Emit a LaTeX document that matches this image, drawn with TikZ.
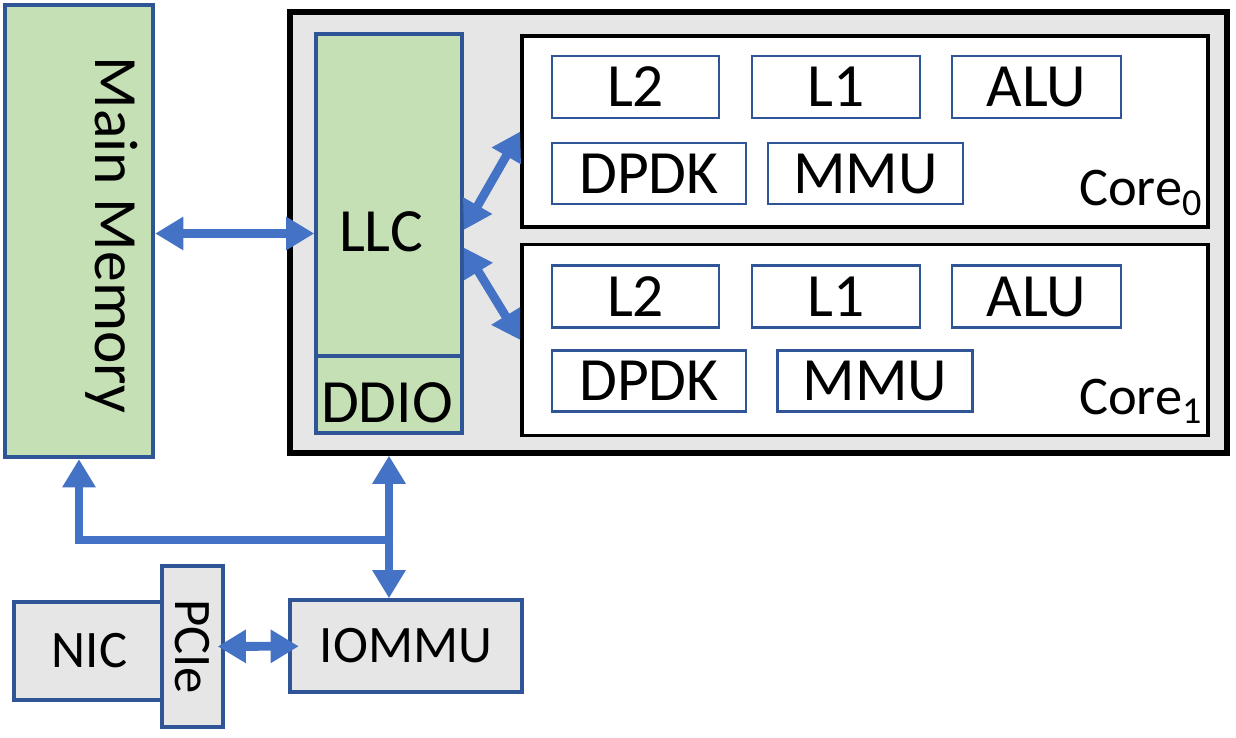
\documentclass[tikz,border=0pt]{standalone}
\usepackage{fontspec}
\setmainfont{Carlito}
\usetikzlibrary{arrows.meta}

\definecolor{memgreen}{HTML}{C5E0B4}
\definecolor{boxblue}{HTML}{2F5597}
\definecolor{arrowblue}{HTML}{4472C4}
\definecolor{cpugray}{HTML}{E7E6E6}

\tikzset{
	sz/.style 2 args={minimum width=#1*0.02cm, minimum height=#2*0.02cm, inner sep=0pt},
	membox/.style={draw=boxblue, line width=2.5pt, fill=memgreen},
	cpubox/.style={draw=black, line width=3pt, fill=cpugray},
	corebox/.style={draw=black, line width=2pt, fill=white},
	unit/.style={draw=boxblue, line width=1.2pt, fill=white},
	iobox/.style={draw=boxblue, line width=2pt, fill=cpugray, font=\fontsize{30}{36}\selectfont},
	link/.style={draw=arrowblue, line width=5pt}
}

\begin{document}
\begin{tikzpicture}[x=0.02cm,y=-0.02cm,
			font=\fontsize{35}{42}\selectfont,
			>={Triangle[width=18pt,length=16pt]}]
			\useasboundingbox (0,0) rectangle (1236,737);
			\node[membox, sz={148}{452}] (mem) at (79,231) {};
			\node[rotate=-90] (memtext) at (112,235) {Main Memory};
			\node[cpubox, sz={937}{441}] (cpu) at (758.5,232.5) {};
			\node[membox, line width=2pt, sz={146}{399}] (llc) at (389,233.5) {};
			\draw[boxblue, line width=2pt] (llc.west |- 0,356) -- (llc.east |- 0,356);
			\node (llctext) at (381,232) {LLC};
			\node (ddio) at (387,403) {DDIO};
			\foreach \i/\cy/\ra/\rb/\mx in {0/131.5/87/173.5/865.5, 1/340/296.5/381/875} {
				\node[corebox, sz={686}{191}] (core\i) at (865,\cy) {};
				\node[unit, sz={167}{62}] (ltwo\i) at (635.5,\ra) {L2};
				\node[unit, sz={168}{62}] (lone\i) at (836,\ra) {L1};
				\node[unit, sz={169}{62}] (alu\i) at (1036.5,\ra) {ALU};
				\node[unit, sz={194}{61}] (dpdk\i) at (649,\rb) {DPDK};
				\node[unit, sz={195}{61}] (mmu\i) at (\mx,\rb) {MMU};
				\node[anchor=south east, inner sep=4pt, yshift=0.12cm, font=\fontsize{31}{37}\selectfont] (corelbl\i) at (core\i.south east) {Core\textsubscript{\i}};
			}
			\node[iobox, sz={151}{98}] (nic) at (89.5,651) {NIC};
			\node[iobox, rotate=-90, sz={161}{61}] (pcie) at (192.5,646.5) {PCIe};
			\node[iobox, sz={232}{92}] (iommu) at (406,646) {IOMMU};
			\coordinate (bus) at (llc.south |- 0,540);
			\draw[link, <->] (mem.east |- llc) -- (llc.west);
			\draw[link, <->] ([yshift=2pt]llc.east) -- (core0.west);
			\draw[link, <->] ([yshift=-8pt]llc.east) -- (core1.west);
			\draw[link, ->] (bus) -| (mem.south);
			\draw[link, <->] (llc.south |- cpu.south) -- (llc.south |- iommu.north);
			\draw[link, <->, shorten <=-4pt, shorten >=-6pt] (pcie) -- (iommu);
			\end{tikzpicture}
\end{document}
